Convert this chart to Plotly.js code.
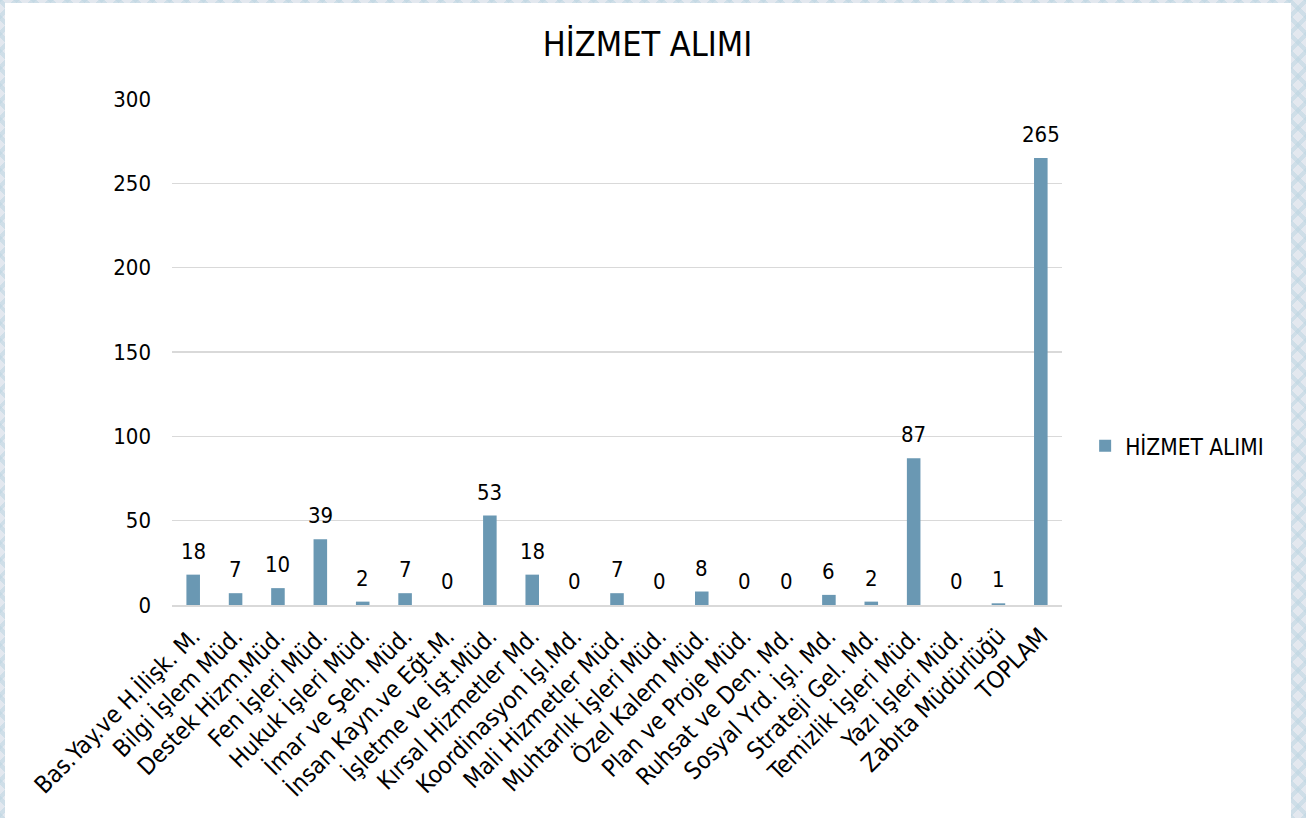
<!DOCTYPE html>
<html>
<head>
<meta charset="utf-8">
<script src="https://cdn.plot.ly/plotly-3.0.1.min.js"></script>
<style>
  html, body { margin: 0; padding: 0; }
  body {
    width: 1306px; height: 818px; overflow: hidden; position: relative;
    background-color: #e3e8ef;
    background-image:
      repeating-linear-gradient(45deg, rgba(190,214,226,0.55) 0 4px, transparent 4px 12px),
      repeating-linear-gradient(-45deg, rgba(190,214,226,0.55) 0 4px, transparent 4px 12px);
  }
  #panel { position: absolute; left: 5px; top: 3px; width: 1286px; height: 815px; background: #ffffff; }
  #chart { position: absolute; left: 0; top: 0; width: 1306px; height: 818px; }
</style>
</head>
<body>
<div id="panel"></div>
<div id="chart"></div>
<script>
const categories = [
  "Bas.Yay.ve H.İlişk. M.", "Bilgi İşlem Müd.", "Destek Hizm.Müd.", "Fen İşleri Müd.",
  "Hukuk İşleri Müd.", "İmar ve Şeh. Müd.", "İnsan Kayn.ve Eğt.M.", "İşletme ve İşt.Müd.",
  "Kırsal Hizmetler Md.", "Koordinasyon İşl.Md.", "Mali Hizmetler Müd.", "Muhtarlık İşleri Müd.",
  "Özel Kalem Müd.", "Plan ve Proje Müd.", "Ruhsat ve Den. Md.", "Sosyal Yrd. İşl. Md.",
  "Strateji Gel. Md.", "Temizlik İşleri Müd.", "Yazı İşleri Müd.", "Zabıta Müdürlüğü", "TOPLAM"
];
const hizmetAlimi = [18, 7, 10, 39, 2, 7, 0, 53, 18, 0, 7, 0, 8, 0, 0, 6, 2, 87, 0, 1, 265];
const yTicks = [0, 50, 100, 150, 200, 250, 300];
const seriesName = "HİZMET ALIMI";
const chartTitle = "HİZMET ALIMI";

const FONT = "DejaVu Sans Condensed, DejaVu Sans, sans-serif";
const barColor = "#6a98b3";

const trace = {
  type: "bar",
  x: categories,
  y: hizmetAlimi,
  name: seriesName,
  marker: { color: barColor },
  hoverinfo: "none",
  showlegend: true
};

const annotations = categories.map((c, i) => ({
  x: c, y: hizmetAlimi[i], xref: "x", yref: "y",
  text: String(hizmetAlimi[i]),
  showarrow: false, yanchor: "bottom", yshift: 9,
  font: { family: FONT, size: 22, color: "#000000" }
}));

const layout = {
  width: 1306, height: 818,
  paper_bgcolor: "rgba(0,0,0,0)",
  plot_bgcolor: "rgba(0,0,0,0)",
  margin: { l: 172, r: 244, t: 99, b: 213, pad: 0 },
  title: {
    text: chartTitle,
    font: { family: FONT, size: 34, color: "#000000" },
    x: 0.4958, xanchor: "center", xref: "container",
    y: 0.9462, yanchor: "middle", yref: "container"
  },
  bargap: 0.68,
  xaxis: {
    type: "category",
    tickangle: -45,
    tickfont: { family: FONT, size: 24, color: "#000000" },
    showline: true, linecolor: "#d9d9d9", linewidth: 1.5,
    showgrid: false, ticks: "", automargin: false,
    ticklabelstandoff: 6
  },
  yaxis: {
    range: [0, 300],
    tickvals: yTicks,
    ticktext: yTicks.map(String),
    tickfont: { family: FONT, size: 22, color: "#000000" },
    showgrid: true, gridcolor: "#d9d9d9", gridwidth: 1.3,
    zeroline: false, showline: false, ticks: "", automargin: false,
    ticklabelstandoff: 20
  },
  legend: {
    x: 1.026, xanchor: "left", xref: "paper",
    y: 0.314, yanchor: "middle", yref: "paper",
    font: { family: FONT, size: 22.5, color: "#000000" },
    bgcolor: "rgba(0,0,0,0)", borderwidth: 0
  },
  annotations: annotations,
  hovermode: false
};

Plotly.newPlot("chart", [trace], layout, { displayModeBar: false, staticPlot: true });
</script>
</body>
</html>
